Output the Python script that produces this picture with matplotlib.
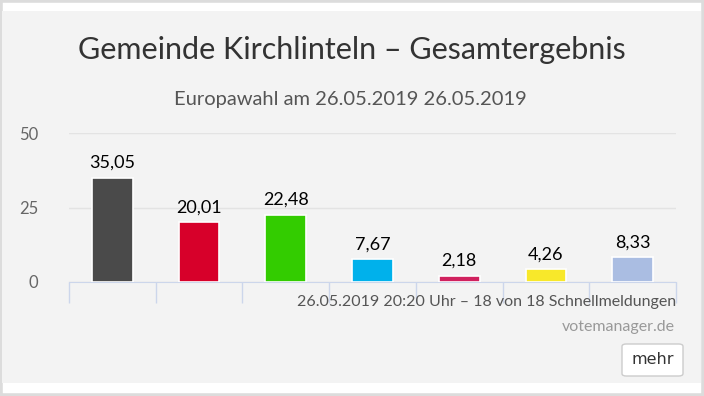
import matplotlib.pyplot as plt
from matplotlib.patches import Rectangle, FancyBboxPatch

# Ergebnisse Europawahl 2019, Gemeinde Kirchlinteln
parties = ["CDU", "SPD", "GRÜNE", "FDP", "DIE LINKE", "AfD", "Sonstige"]
values = [35.05, 20.01, 22.48, 7.67, 2.18, 4.26, 8.33]
colors = ["#4a4a4a", "#d7002a", "#33cc00", "#00b1eb", "#d0215e", "#f8e82a", "#aabde2"]
yticks = [0, 25, 50]

W, H = 704, 396
FONT = "Lato"

fig = plt.figure(figsize=(W / 100, H / 100), dpi=100)
fig.patch.set_facecolor("white")


def px(x0, y0, x1, y1):
    # pixel box (top-left origin) -> figure fraction
    return [x0 / W, 1 - y1 / H, (x1 - x0) / W, (y1 - y0) / H]


# outer frame and grey panel (behind the axes)
fig.patches.append(Rectangle((0, 0), 1, 1, transform=fig.transFigure, zorder=-10,
                             facecolor="white", edgecolor="#dcdcdc", linewidth=4))
b = px(2, 11, 701, 383)
fig.patches.append(Rectangle((b[0], b[1]), b[2], b[3], transform=fig.transFigure, zorder=-9,
                             facecolor="#f3f3f3", edgecolor="none"))

ax = fig.add_axes(px(69, 133, 676, 282))
ax.set_facecolor("none")
x = range(len(values))
ax.bar(x, values, width=0.47, color=colors, edgecolor="white", linewidth=1.2, zorder=3)

for i, v in enumerate(values):
    ax.annotate(f"{v:.2f}".replace(".", ","), (i, v), xytext=(0, 5),
                textcoords="offset points", ha="center", va="bottom",
                fontsize=13, fontfamily=FONT, color="black", zorder=4)

ax.set_xlim(-0.5, len(values) - 0.5)
ax.set_ylim(0, 50)
ax.set_yticks(yticks)
ax.set_yticklabels([str(t) for t in yticks], fontsize=12, fontfamily=FONT, color="#666666")
ax.yaxis.grid(True, color="#e3e3e3", linewidth=1)
ax.set_axisbelow(True)
ax.tick_params(axis="y", length=0, pad=22)

ax.set_xticks([i - 0.5 for i in range(len(values) + 1)])
ax.set_xticklabels([])
ax.tick_params(axis="x", length=15, width=1, color="#ccd6eb", direction="out")

for s in ["top", "right", "left"]:
    ax.spines[s].set_visible(False)
ax.spines["bottom"].set_color("#ccd6eb")

fig.text(352 / W, 1 - 50 / H, "Gemeinde Kirchlinteln – Gesamtergebnis", ha="center", va="center",
         fontsize=22, fontfamily=FONT, color="#333333")
fig.text(350 / W, 1 - 99 / H, "Europawahl am 26.05.2019 26.05.2019", ha="center", va="center",
         fontsize=14.5, fontfamily=FONT, color="#555555")
fig.text(676 / W, 1 - 302 / H, "26.05.2019 20:20 Uhr – 18 von 18 Schnellmeldungen", ha="right",
         va="center", fontsize=11.5, fontfamily=FONT, color="#555555")
fig.text(675 / W, 1 - 327 / H, "votemanager.de", ha="right", va="center",
         fontsize=11.5, fontfamily=FONT, color="#999999")

bb = px(622, 344, 683, 376)
fig.patches.append(FancyBboxPatch((bb[0], bb[1]), bb[2], bb[3], transform=fig.transFigure,
                                  boxstyle="round,pad=0,rounding_size=0.006",
                                  facecolor="white", edgecolor="#cccccc", linewidth=1))
fig.text((622 + 683) / 2 / W, 1 - 360 / H, "mehr", ha="center", va="center",
         fontsize=11.5, fontfamily="DejaVu Sans", color="#333333")

fig.savefig("out.png", dpi=100)
